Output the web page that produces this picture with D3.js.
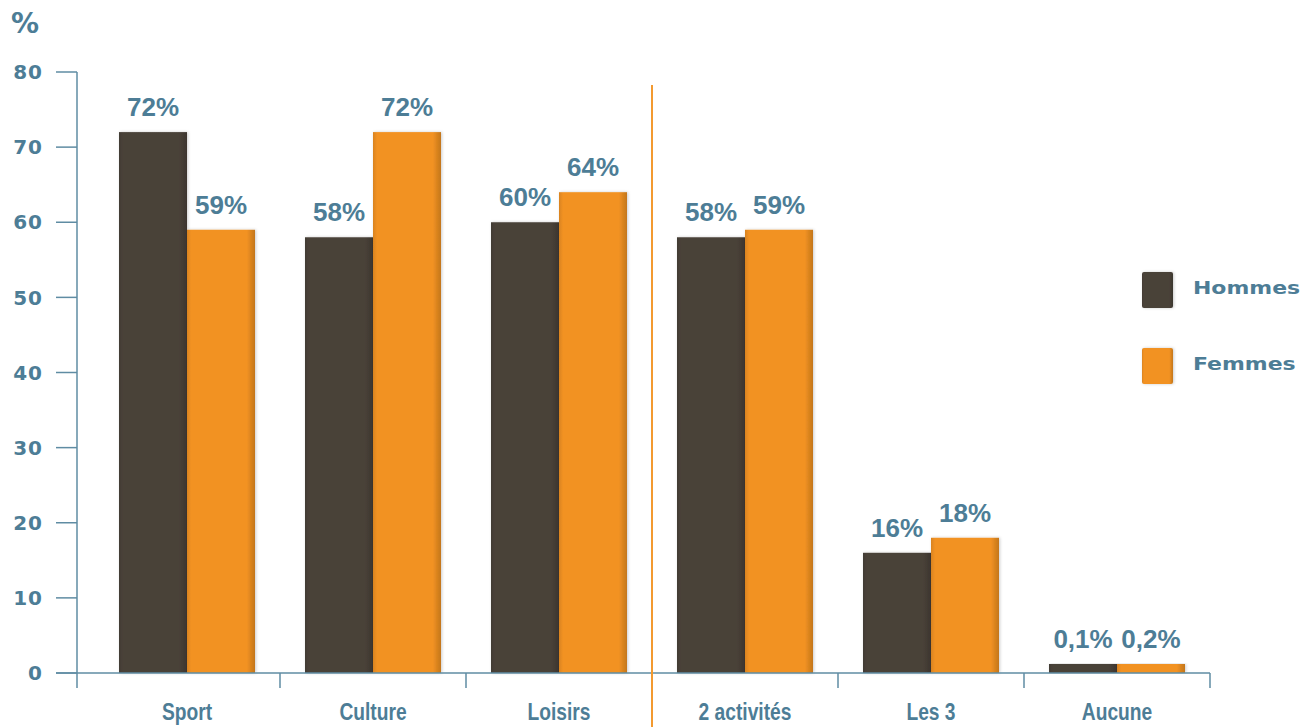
<!DOCTYPE html>
<html>
<head>
<meta charset="utf-8">
<script src="https://cdn.jsdelivr.net/npm/d3@7"></script>
<style>
  body { margin: 0; background: #fff; }
  svg { display: block; }
</style>
</head>
<body>
<div id="chart"></div>
<script>
var categories = ["Sport", "Culture", "Loisirs", "2 activités", "Les 3", "Aucune"];
var series = ["Hommes", "Femmes"];
var hommes = [72, 58, 60, 58, 16, 0.1];
var femmes = [59, 72, 64, 59, 18, 0.2];
var yTicks = [0, 10, 20, 30, 40, 50, 60, 70, 80];

(function (selector) {
    var width = 1314, height = 727;
    var svg = d3.select(selector).append("svg")
        .attr("width", width)
        .attr("height", height);

    var textColor = "#4d7d96";
    var axisColor = "#5f8ca3";
    var colors = { Hommes: "#4a4239", Femmes: "#f29222" };

    var defs = svg.append("defs");
    function grad(id, c) {
        var g = defs.append("linearGradient").attr("id", id)
            .attr("x1", "0%").attr("x2", "100%").attr("y1", "0%").attr("y2", "0%");
        g.append("stop").attr("offset", "0%").attr("stop-color", d3.color(c).darker(0.3));
        g.append("stop").attr("offset", "6%").attr("stop-color", c);
        g.append("stop").attr("offset", "88%").attr("stop-color", c);
        g.append("stop").attr("offset", "100%").attr("stop-color", d3.color(c).darker(0.6));
    }
    grad("g-Hommes", colors.Hommes);
    grad("g-Femmes", colors.Femmes);
    var f = defs.append("filter").attr("id", "shadow")
        .attr("x", "-20%").attr("y", "-10%").attr("width", "140%").attr("height", "120%");
    f.append("feDropShadow").attr("dx", 1).attr("dy", 0).attr("stdDeviation", 1.5)
        .attr("flood-color", "#000").attr("flood-opacity", 0.2);

    var axisX = 77, x0Left = 94, x0Right = 1210;

    var y = d3.scaleLinear().domain([0, 80]).range([673, 72]);

    var x0 = d3.scaleBand().domain(categories).range([x0Left, x0Right]).padding(0);
    var x1 = d3.scaleBand().domain(series).range([-68, 68]).padding(0);

    var data = categories.map(function (c, i) {
        return { cat: c, values: [
            { key: "Hommes", value: hommes[i] },
            { key: "Femmes", value: femmes[i] }
        ] };
    });

    function fmt(v) { return String(v).replace(".", ",") + "%"; }

    // y axis
    var yAxis = svg.append("g").attr("class", "y-axis");
    yAxis.append("line")
        .attr("x1", axisX).attr("x2", axisX)
        .attr("y1", y(80)).attr("y2", y(0) + 15)
        .attr("stroke", axisColor).attr("stroke-width", 1.5);
    yAxis.selectAll("line.tick")
        .data(yTicks)
        .enter().append("line")
        .attr("class", "tick")
        .attr("x1", axisX - 21).attr("x2", axisX)
        .attr("y1", function (d) { return y(d); })
        .attr("y2", function (d) { return y(d); })
        .attr("stroke", axisColor).attr("stroke-width", 1.5);
    yAxis.selectAll("text")
        .data(yTicks)
        .enter().append("text")
        .attr("x", 43)
        .attr("y", function (d) { return y(d); })
        .attr("dy", "0.36em")
        .attr("text-anchor", "end")
        .attr("font-family", "DejaVu Sans, sans-serif")
        .attr("font-weight", "bold")
        .attr("font-size", 20)
        .attr("letter-spacing", 1)
        .attr("fill", textColor)
        .text(function (d) { return d; });
    svg.append("text")
        .attr("x", 11).attr("y", 33)
        .attr("font-family", "DejaVu Sans, sans-serif")
        .attr("font-weight", "bold")
        .attr("font-size", 28)
        .attr("fill", textColor)
        .text("%");

    // bars
    var groups = svg.append("g").selectAll("g")
        .data(data)
        .enter().append("g")
        .attr("transform", function (d) { return "translate(" + (x0(d.cat) + x0.bandwidth() / 2) + ",0)"; });

    groups.selectAll("rect")
        .data(function (d) { return d.values; })
        .enter().append("rect")
        .attr("x", function (d) { return x1(d.key); })
        .attr("width", x1.bandwidth())
        .attr("y", function (d) { return Math.min(y(d.value), y(0) - 9); })
        .attr("height", function (d) { return Math.max(y(0) - y(d.value), 9); })
        .attr("fill", function (d) { return "url(#g-" + d.key + ")"; })
        .attr("filter", "url(#shadow)");

    groups.selectAll("text")
        .data(function (d) { return d.values; })
        .enter().append("text")
        .attr("x", function (d) { return x1(d.key) + x1.bandwidth() / 2; })
        .attr("y", function (d) { return Math.min(y(d.value), y(0) - 9) - 16; })
        .attr("text-anchor", "middle")
        .attr("font-family", "Liberation Sans, Arial, sans-serif")
        .attr("font-weight", "bold")
        .attr("font-size", 26)
        .attr("fill", textColor)
        .text(function (d) { return fmt(d.value); });

    // x axis
    var xAxis = svg.append("g").attr("class", "x-axis");
    xAxis.append("line")
        .attr("x1", axisX - 21).attr("x2", x0Right)
        .attr("y1", y(0)).attr("y2", y(0))
        .attr("stroke", axisColor).attr("stroke-width", 1.5);
    var boundaries = categories.map(function (c) { return x0(c) + x0.step(); });
    xAxis.selectAll("line.tick")
        .data(boundaries)
        .enter().append("line")
        .attr("class", "tick")
        .attr("x1", function (d) { return d; }).attr("x2", function (d) { return d; })
        .attr("y1", y(0)).attr("y2", y(0) + 15)
        .attr("stroke", axisColor).attr("stroke-width", 1.5);
    // condensed look: squeeze the labels horizontally
    xAxis.selectAll("text")
        .data(categories)
        .enter().append("text")
        .attr("transform", function (d) {
            return "translate(" + (x0(d) + x0.bandwidth() / 2) + ",720) scale(0.8,1)";
        })
        .attr("text-anchor", "middle")
        .attr("font-family", "Liberation Sans, Arial, sans-serif")
        .attr("font-weight", "bold")
        .attr("font-size", 24)
        .attr("fill", textColor)
        .text(function (d) { return d; });

    // divider between single activities and combinations
    var divX = x0("2 activités");
    svg.append("line")
        .attr("x1", divX).attr("x2", divX)
        .attr("y1", 85).attr("y2", height)
        .attr("stroke", "#f39a30").attr("stroke-width", 2);

    // legend
    var legend = svg.append("g").selectAll("g")
        .data(series)
        .enter().append("g")
        .attr("transform", function (d, i) { return "translate(1142," + (272 + i * 76) + ")"; });
    legend.append("rect")
        .attr("width", 31).attr("height", 36)
        .attr("rx", 2)
        .attr("fill", function (d) { return "url(#g-" + d + ")"; })
        .attr("filter", "url(#shadow)");
    legend.append("text")
        .attr("transform", "translate(51,22) scale(1.22,1)")
        .attr("font-family", "DejaVu Sans, sans-serif")
        .attr("font-weight", "bold")
        .attr("font-size", 18)
        .attr("fill", textColor)
        .text(function (d) { return d; });
})("#chart");
</script>
</body>
</html>
